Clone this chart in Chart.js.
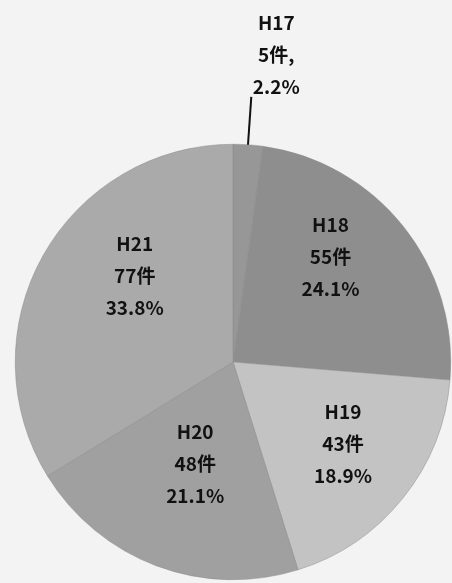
<!DOCTYPE html>
<html lang="ja">
<head>
<meta charset="utf-8">
<title>年度別件数</title>
<script src="https://cdn.jsdelivr.net/npm/chart.js@4"></script>
<style>
  html, body { margin: 0; padding: 0; background: #f3f3f3; }
  #wrap { width: 452px; height: 583px; }
</style>
</head>
<body>
<div id="wrap"><canvas id="yearPie" width="452" height="583"></canvas></div>
<script>
// 年度別の件数
const years = ['H17', 'H18', 'H19', 'H20', 'H21'];
const counts = [5, 55, 43, 48, 77];
const sliceColors = ['#979797', '#8e8e8e', '#c3c3c3', '#a0a0a0', '#aaaaaa'];

// label nudges: angle shift (deg) from slice middle, distance as share of radius
const labelSpots = [
    null,               // H17 is labelled outside with a leader line
    { dAngle: -8.6, r: 0.66 },
    { dAngle: -2.0, r: 0.63 },
    { dAngle: -0.2, r: 0.50 },
    { dAngle: 12.0, r: 0.60 }
];

const total = counts.reduce((a, b) => a + b, 0);
const pct = counts.map(v => (v / total * 100).toFixed(1) + '%');

const labelFont = 'bold 19px "Noto Sans CJK JP", "DejaVu Sans", sans-serif';
const lineGap = 32;

const sliceLabels = {
    id: 'sliceLabels',
    afterDatasetsDraw(chart) {
        const ctx = chart.ctx;
        const arcs = chart.getDatasetMeta(0).data;
        ctx.save();
        ctx.font = labelFont;
        ctx.fillStyle = '#111';
        ctx.textAlign = 'center';
        ctx.textBaseline = 'middle';

        arcs.forEach((arc, i) => {
            const mid = (arc.startAngle + arc.endAngle) / 2;
            const lines = [years[i], counts[i] + '件', pct[i]];
            const spot = labelSpots[i];

            if (!spot) {
                // small slice: leader line straight out from the rim, text above it
                const r0 = arc.outerRadius;
                const r1 = arc.outerRadius + 48;
                const x0 = arc.x + Math.cos(mid) * r0;
                const y0 = arc.y + Math.sin(mid) * r0;
                const x1 = arc.x + Math.cos(mid) * r1;
                const y1 = arc.y + Math.sin(mid) * r1;
                ctx.strokeStyle = '#111';
                ctx.lineWidth = 2;
                ctx.beginPath();
                ctx.moveTo(x0, y0);
                ctx.lineTo(x1, y1);
                ctx.stroke();
                lines[1] = counts[i] + '件,';
                const tx = x1 + 25;
                const top = y1 - 10 - lineGap * 2;
                lines.forEach((t, k) => ctx.fillText(t, tx, top + k * lineGap));
                return;
            }

            const a = mid + spot.dAngle * Math.PI / 180;
            const r = arc.outerRadius * spot.r;
            const cx = arc.x + Math.cos(a) * r;
            const cy = arc.y + Math.sin(a) * r;
            lines.forEach((t, k) => ctx.fillText(t, cx, cy + (k - 1) * lineGap));
        });
        ctx.restore();
    }
};

new Chart(document.getElementById('yearPie'), {
    type: 'pie',
    data: {
        labels: years,
        datasets: [{
            data: counts,
            backgroundColor: sliceColors,
            borderColor: '#8a8a8a',
            borderWidth: 0.5
        }]
    },
    options: {
        responsive: false,
        animation: false,
        layout: {
            padding: { left: 15, right: 1, top: 144, bottom: 3 }
        },
        plugins: {
            legend: { display: false },
            tooltip: { enabled: false }
        }
    },
    plugins: [sliceLabels]
});
</script>
</body>
</html>
